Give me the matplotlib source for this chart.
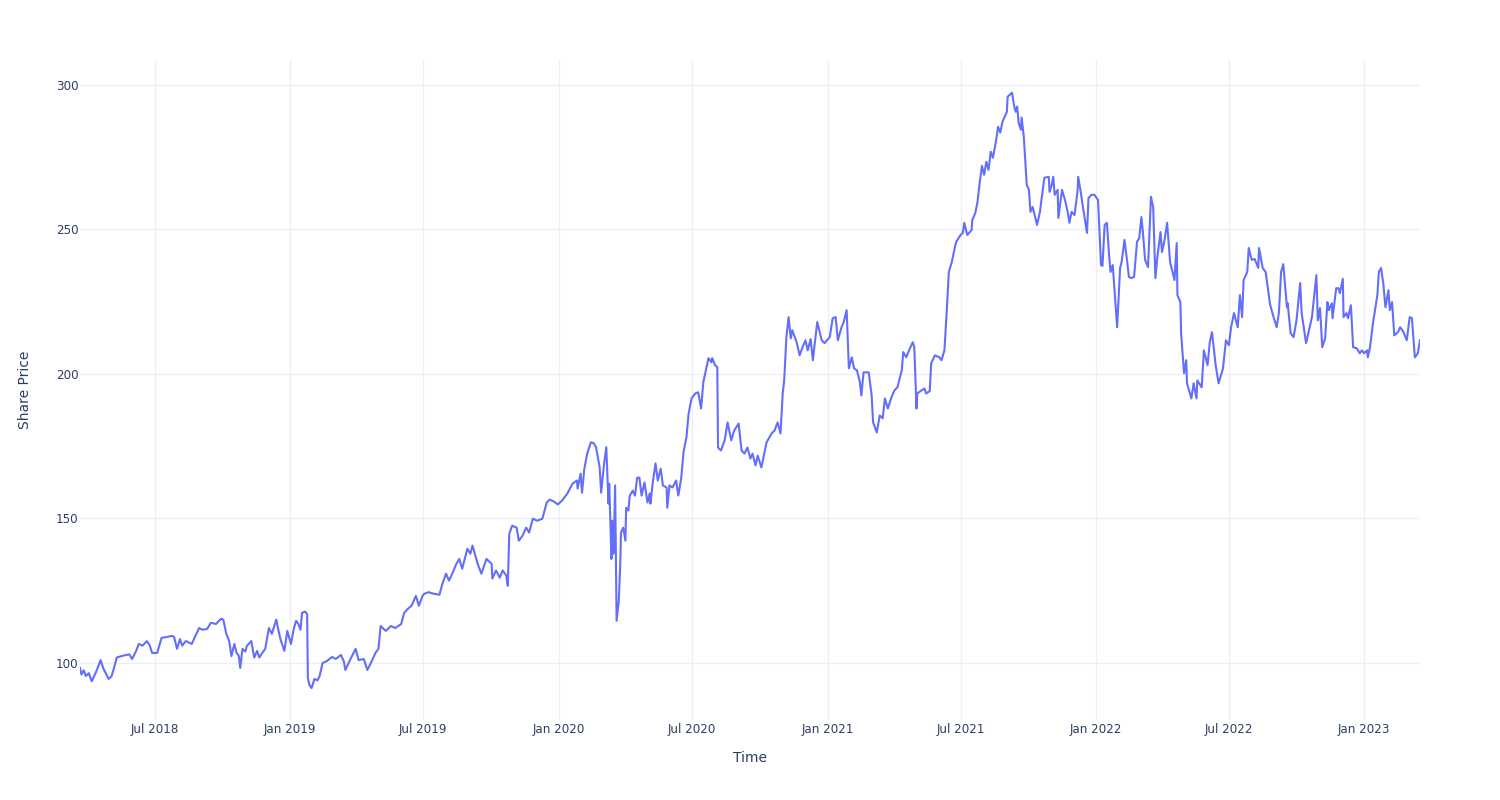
import matplotlib
matplotlib.use("Agg")
import matplotlib.pyplot as plt
import matplotlib.dates as mdates
import pandas as pd

# share price readings (date, value) taken off the reference chart
dates = [
    "2018-03-21", "2018-03-23", "2018-03-26", "2018-03-29", "2018-04-02", "2018-04-06", "2018-04-12", "2018-04-18",
    "2018-04-22", "2018-04-29", "2018-05-03", "2018-05-06", "2018-05-10", "2018-05-18", "2018-05-27", "2018-05-31",
    "2018-06-05", "2018-06-09", "2018-06-14", "2018-06-20", "2018-06-24", "2018-06-27", "2018-07-04", "2018-07-10",
    "2018-07-17", "2018-07-24", "2018-07-27", "2018-07-31", "2018-08-04", "2018-08-07", "2018-08-12", "2018-08-20",
    "2018-08-30", "2018-09-04", "2018-09-10", "2018-09-15", "2018-09-22", "2018-09-29", "2018-10-02", "2018-10-06",
    "2018-10-10", "2018-10-13", "2018-10-17", "2018-10-20", "2018-10-23", "2018-10-25", "2018-10-28", "2018-11-01",
    "2018-11-03", "2018-11-09", "2018-11-13", "2018-11-17", "2018-11-20", "2018-11-24", "2018-11-28", "2018-12-03",
    "2018-12-07", "2018-12-13", "2018-12-17", "2018-12-19", "2018-12-24", "2018-12-28", "2019-01-02", "2019-01-06",
    "2019-01-09", "2019-01-12", "2019-01-15", "2019-01-17", "2019-01-21", "2019-01-24", "2019-01-25", "2019-01-27",
    "2019-01-30", "2019-02-03", "2019-02-07", "2019-02-10", "2019-02-14", "2019-02-20", "2019-02-27", "2019-03-04",
    "2019-03-11", "2019-03-15", "2019-03-17", "2019-03-24", "2019-03-31", "2019-04-04", "2019-04-11", "2019-04-16",
    "2019-04-22", "2019-04-27", "2019-05-01", "2019-05-04", "2019-05-11", "2019-05-18", "2019-05-24", "2019-06-01",
    "2019-06-05", "2019-06-09", "2019-06-15", "2019-06-21", "2019-06-25", "2019-06-30", "2019-07-02", "2019-07-08",
    "2019-07-16", "2019-07-23", "2019-07-27", "2019-08-01", "2019-08-05", "2019-08-10", "2019-08-15", "2019-08-19",
    "2019-08-23", "2019-08-30", "2019-09-03", "2019-09-06", "2019-09-13", "2019-09-18", "2019-09-25", "2019-10-02",
    "2019-10-03", "2019-10-08", "2019-10-13", "2019-10-17", "2019-10-22", "2019-10-24", "2019-10-26", "2019-10-30",
    "2019-11-05", "2019-11-08", "2019-11-13", "2019-11-18", "2019-11-22", "2019-11-27", "2019-12-03", "2019-12-10",
    "2019-12-16", "2019-12-20", "2019-12-26", "2019-12-31", "2020-01-06", "2020-01-13", "2020-01-20", "2020-01-26",
    "2020-01-27", "2020-01-31", "2020-02-02", "2020-02-05", "2020-02-09", "2020-02-14", "2020-02-18", "2020-02-21",
    "2020-02-26", "2020-02-28", "2020-03-03", "2020-03-06", "2020-03-09", "2020-03-10", "2020-03-13", "2020-03-14",
    "2020-03-16", "2020-03-18", "2020-03-20", "2020-03-23", "2020-03-25", "2020-03-26", "2020-03-29", "2020-04-01",
    "2020-04-02", "2020-04-05", "2020-04-07", "2020-04-11", "2020-04-14", "2020-04-17", "2020-04-20", "2020-04-23",
    "2020-04-27", "2020-05-01", "2020-05-04", "2020-05-05", "2020-05-08", "2020-05-12", "2020-05-15", "2020-05-19",
    "2020-05-22", "2020-05-27", "2020-05-28", "2020-05-31", "2020-06-04", "2020-06-09", "2020-06-12", "2020-06-16",
    "2020-06-19", "2020-06-23", "2020-06-26", "2020-06-30", "2020-07-05", "2020-07-09", "2020-07-13", "2020-07-16",
    "2020-07-20", "2020-07-23", "2020-07-27", "2020-07-28", "2020-08-01", "2020-08-04", "2020-08-05", "2020-08-09",
    "2020-08-14", "2020-08-18", "2020-08-23", "2020-08-27", "2020-09-02", "2020-09-06", "2020-09-10", "2020-09-14",
    "2020-09-18", "2020-09-21", "2020-09-25", "2020-09-28", "2020-10-03", "2020-10-10", "2020-10-17", "2020-10-21",
    "2020-10-25", "2020-10-29", "2020-11-01", "2020-11-03", "2020-11-06", "2020-11-09", "2020-11-12", "2020-11-14",
    "2020-11-20", "2020-11-24", "2020-11-28", "2020-12-02", "2020-12-05", "2020-12-09", "2020-12-12", "2020-12-18",
    "2020-12-24", "2020-12-28", "2021-01-04", "2021-01-08", "2021-01-12", "2021-01-15", "2021-01-20", "2021-01-23",
    "2021-01-27", "2021-01-30", "2021-02-03", "2021-02-06", "2021-02-10", "2021-02-14", "2021-02-16", "2021-02-19",
    "2021-02-26", "2021-03-02", "2021-03-04", "2021-03-09", "2021-03-13", "2021-03-17", "2021-03-20", "2021-03-24",
    "2021-03-29", "2021-04-02", "2021-04-06", "2021-04-12", "2021-04-14", "2021-04-18", "2021-04-23", "2021-04-27",
    "2021-04-29", "2021-05-02", "2021-05-03", "2021-05-09", "2021-05-13", "2021-05-15", "2021-05-20", "2021-05-22",
    "2021-05-27", "2021-06-02", "2021-06-05", "2021-06-09", "2021-06-12", "2021-06-15", "2021-06-19", "2021-06-23",
    "2021-06-25", "2021-07-01", "2021-07-04", "2021-07-06", "2021-07-10", "2021-07-16", "2021-07-17", "2021-07-21",
    "2021-07-24", "2021-07-27", "2021-07-30", "2021-08-02", "2021-08-05", "2021-08-08", "2021-08-11", "2021-08-14",
    "2021-08-18", "2021-08-21", "2021-08-24", "2021-08-27", "2021-09-02", "2021-09-03", "2021-09-09", "2021-09-12",
    "2021-09-14", "2021-09-16", "2021-09-18", "2021-09-21", "2021-09-22", "2021-09-25", "2021-09-29", "2021-10-02",
    "2021-10-04", "2021-10-07", "2021-10-13", "2021-10-17", "2021-10-19", "2021-10-23", "2021-10-29", "2021-10-30",
    "2021-11-02", "2021-11-04", "2021-11-06", "2021-11-10", "2021-11-11", "2021-11-16", "2021-11-20", "2021-11-24",
    "2021-11-26", "2021-11-29", "2021-12-03", "2021-12-07", "2021-12-08", "2021-12-11", "2021-12-15", "2021-12-20",
    "2021-12-22", "2021-12-26", "2021-12-30", "2022-01-04", "2022-01-08", "2022-01-10", "2022-01-13", "2022-01-16",
    "2022-01-19", "2022-01-21", "2022-01-24", "2022-01-30", "2022-02-03", "2022-02-05", "2022-02-09", "2022-02-12",
    "2022-02-15", "2022-02-18", "2022-02-22", "2022-02-26", "2022-03-01", "2022-03-04", "2022-03-06", "2022-03-09",
    "2022-03-13", "2022-03-17", "2022-03-20", "2022-03-23", "2022-03-26", "2022-03-30", "2022-04-01", "2022-04-04",
    "2022-04-08", "2022-04-12", "2022-04-18", "2022-04-21", "2022-04-22", "2022-04-26", "2022-04-27", "2022-05-01",
    "2022-05-04", "2022-05-05", "2022-05-11", "2022-05-14", "2022-05-18", "2022-05-19", "2022-05-25", "2022-05-28",
    "2022-06-02", "2022-06-05", "2022-06-08", "2022-06-13", "2022-06-17", "2022-06-23", "2022-06-27", "2022-07-01",
    "2022-07-04", "2022-07-08", "2022-07-13", "2022-07-16", "2022-07-19", "2022-07-21", "2022-07-26", "2022-07-28",
    "2022-08-01", "2022-08-05", "2022-08-10", "2022-08-11", "2022-08-16", "2022-08-20", "2022-08-23", "2022-08-26",
    "2022-08-30", "2022-09-04", "2022-09-07", "2022-09-10", "2022-09-13", "2022-09-18", "2022-09-19", "2022-09-23",
    "2022-09-27", "2022-10-01", "2022-10-06", "2022-10-08", "2022-10-14", "2022-10-17", "2022-10-22", "2022-10-28",
    "2022-10-30", "2022-11-02", "2022-11-05", "2022-11-09", "2022-11-12", "2022-11-14", "2022-11-18", "2022-11-19",
    "2022-11-24", "2022-11-27", "2022-11-29", "2022-12-03", "2022-12-04", "2022-12-08", "2022-12-10", "2022-12-14",
    "2022-12-17", "2022-12-22", "2022-12-26", "2022-12-29", "2023-01-01", "2023-01-05", "2023-01-06", "2023-01-09",
    "2023-01-13", "2023-01-19", "2023-01-21", "2023-01-24", "2023-01-27", "2023-01-30", "2023-02-03", "2023-02-05",
    "2023-02-08", "2023-02-11", "2023-02-16", "2023-02-19", "2023-02-23", "2023-02-28", "2023-03-04", "2023-03-07",
    "2023-03-11", "2023-03-15", "2023-03-18",
]
prices = [
    98.3, 96.0, 97.5, 95.5, 96.5, 93.7, 97.0, 101.0,
    98.0, 94.5, 95.5, 98.0, 101.9, 102.5, 103.0, 101.4,
    104.0, 106.6, 106.0, 107.6, 106.0, 103.5, 103.5, 108.7,
    109.0, 109.4, 109.0, 104.9, 108.3, 106.0, 107.6, 106.6,
    112.1, 111.5, 111.8, 113.9, 113.5, 115.3, 115.0, 110.1,
    107.6, 102.4, 106.6, 103.5, 102.5, 98.3, 104.9, 104.0,
    105.9, 107.6, 101.9, 104.2, 101.9, 103.5, 104.9, 112.1,
    110.1, 115.0, 110.1, 108.0, 104.2, 111.1, 106.6, 112.0,
    114.6, 113.5, 111.5, 117.3, 117.8, 117.0, 94.8, 92.5,
    91.3, 94.5, 94.0, 95.5, 100.0, 100.7, 102.1, 101.4,
    102.8, 100.5, 97.6, 101.4, 104.9, 101.0, 101.4, 97.6,
    100.7, 103.5, 104.9, 112.8, 111.1, 112.8, 112.1, 113.5,
    117.3, 118.5, 119.8, 123.2, 119.8, 123.2, 123.9, 124.5,
    123.9, 123.6, 127.4, 130.9, 128.5, 131.2, 134.3, 136.0,
    132.6, 139.5, 137.8, 140.6, 134.3, 130.9, 136.0, 134.3,
    129.2, 132.0, 129.5, 132.0, 130.2, 126.7, 144.7, 147.5,
    146.8, 142.3, 144.0, 146.8, 145.1, 149.9, 149.2, 149.9,
    155.5, 156.5, 155.8, 154.8, 156.2, 158.6, 162.0, 163.1,
    160.3, 165.5, 158.9, 167.0, 172.4, 176.3, 176.0, 174.6,
    167.6, 158.9, 169.0, 174.6, 155.1, 162.0, 136.0, 149.2,
    137.8, 161.4, 114.6, 121.5, 134.3, 145.1, 146.8, 142.3,
    153.7, 152.7, 157.9, 159.6, 157.9, 164.1, 164.1, 157.9,
    162.4, 155.5, 158.6, 155.1, 162.0, 169.0, 163.1, 167.2,
    161.4, 160.7, 153.7, 161.4, 160.7, 163.1, 157.9, 164.1,
    172.8, 178.0, 186.3, 191.5, 193.2, 193.6, 188.0, 197.1,
    201.9, 205.4, 204.0, 205.4, 203.0, 202.3, 174.5, 173.5,
    177.0, 183.2, 177.0, 180.4, 182.8, 173.5, 172.4, 174.5,
    170.7, 172.4, 168.3, 171.7, 167.6, 176.3, 179.4, 180.4,
    183.2, 179.4, 193.2, 197.7, 212.6, 219.6, 212.3, 215.1,
    210.9, 206.4, 209.2, 211.6, 208.1, 212.0, 204.7, 217.9,
    211.6, 210.6, 212.7, 219.2, 219.6, 211.6, 216.1, 217.9,
    222.0, 201.9, 205.7, 201.9, 201.2, 197.1, 192.5, 200.5,
    200.5, 192.5, 183.2, 179.7, 185.6, 184.6, 191.5, 188.0,
    191.9, 194.3, 195.3, 201.2, 207.5, 205.7, 208.8, 210.9,
    209.2, 188.0, 193.2, 194.3, 194.9, 193.2, 194.0, 203.6,
    206.4, 205.7, 204.7, 208.1, 221.0, 235.2, 238.6, 243.5,
    245.6, 248.0, 248.7, 252.2, 248.0, 249.7, 253.2, 255.6,
    259.4, 266.0, 271.9, 268.8, 273.3, 270.5, 276.8, 274.7,
    280.2, 285.4, 283.4, 287.2, 290.6, 295.8, 297.2, 292.4,
    290.6, 292.4, 286.8, 284.4, 288.6, 282.0, 265.3, 263.6,
    256.0, 257.7, 251.5, 256.0, 260.1, 267.8, 268.1, 262.9,
    265.3, 268.1, 261.9, 263.6, 253.9, 263.6, 260.1, 255.6,
    252.2, 256.0, 254.9, 262.9, 268.1, 263.6, 256.7, 248.7,
    260.8, 261.9, 261.9, 260.1, 237.6, 237.3, 251.5, 252.2,
    241.1, 235.2, 237.6, 216.1, 236.6, 238.6, 246.3, 240.1,
    233.5, 233.1, 233.5, 245.6, 246.9, 254.2, 249.0, 239.4,
    236.9, 261.2, 257.7, 233.1, 241.1, 249.0, 242.1, 245.6,
    252.2, 238.6, 232.4, 245.2, 227.2, 224.8, 214.0, 200.2,
    204.7, 196.7, 191.5, 196.7, 191.5, 197.7, 195.3, 208.1,
    203.0, 210.9, 214.4, 203.0, 196.7, 201.9, 211.6, 209.9,
    216.1, 221.0, 216.1, 227.2, 219.6, 232.4, 235.2, 243.5,
    239.4, 239.7, 236.6, 243.5, 236.6, 235.2, 229.6, 224.0,
    220.3, 216.1, 221.0, 235.2, 237.9, 223.0, 224.4, 214.0,
    212.7, 218.5, 231.4, 221.0, 210.6, 214.0, 219.6, 234.1,
    218.5, 222.7, 209.2, 212.3, 224.8, 222.0, 224.4, 219.2,
    229.6, 229.6, 227.9, 232.8, 219.6, 221.0, 219.2, 223.7,
    209.2, 208.8, 207.1, 208.1, 207.1, 208.1, 205.7, 209.2,
    217.5, 227.2, 235.2, 236.6, 231.4, 223.0, 228.9, 222.0,
    224.8, 213.3, 214.4, 216.1, 214.7, 211.6, 219.6, 219.2,
    205.7, 207.1, 211.6,
]

df = pd.DataFrame({"Time": pd.to_datetime(dates), "Share Price": prices})

plt.rcParams["font.family"] = ["DejaVu Sans"]

fig = plt.figure(figsize=(15, 8), dpi=100)
ax = fig.add_axes([80 / 1500, 80 / 800, 1340 / 1500, 660 / 800])

ax.plot(df["Time"], df["Share Price"], color="#636EFA", linewidth=1.5, zorder=3)

ax.set_xlim(df["Time"].iloc[0], df["Time"].iloc[-1])
ax.set_ylim(80.3, 308.5)
ax.set_yticks([100, 150, 200, 250, 300])
ax.xaxis.set_major_locator(mdates.MonthLocator(bymonth=[1, 7]))
ax.xaxis.set_major_formatter(mdates.DateFormatter("%b %Y"))

ax.grid(True, color="#EBF0F8", linewidth=1)
ax.set_axisbelow(True)
for s in ax.spines.values():
    s.set_visible(False)
ax.tick_params(length=0, labelsize=8.6, labelcolor="#2a3f5f")
ax.tick_params(axis="x", pad=2)
ax.tick_params(axis="y", pad=1)

ax.set_xlabel("Time", fontsize=10, color="#2a3f5f", labelpad=11)
ax.set_ylabel("Share Price", fontsize=10, color="#2a3f5f", labelpad=17)

fig.savefig("out.png", dpi=100, facecolor="white")
